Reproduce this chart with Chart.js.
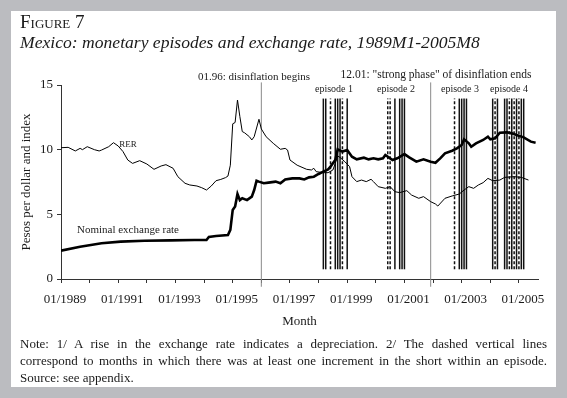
<!DOCTYPE html>
<html>
<head>
<meta charset="utf-8">
<script src="https://cdn.jsdelivr.net/npm/chart.js@4/dist/chart.umd.min.js"></script>
<style>
  html, body { margin: 0; padding: 0; }
  body {
    width: 567px; height: 398px; position: relative; overflow: hidden;
    background: #bbbcc0; color: #1a1a1a;
    font-family: "Liberation Serif", "DejaVu Serif", serif;
  }
  #panel { position: absolute; left: 11px; top: 11px; width: 545px; height: 376px; background: #fff; }
  #chart { position: absolute; left: 0; top: 0; }
  .t { position: absolute; white-space: nowrap; }
  .c { transform: translate(-50%, -50%); }
  .note { position: absolute; left: 20px; width: 527px; font-size: 13px; line-height: 17px; }
  .just { text-align: justify; text-align-last: justify; }
</style>
</head>
<body>
<div id="panel"></div>
<canvas id="chart" width="567" height="398"></canvas>

<div class="t" style="left:20px;top:11px;font-size:19px;font-variant:small-caps;">Figure 7</div>
<div class="t" style="left:20px;top:32px;font-size:17.6px;font-style:italic;">Mexico: monetary episodes and exchange rate, 1989M1-2005M8</div>

<div class="t c" style="left:254px;top:76px;font-size:11px;">01.96: disinflation begins</div>
<div class="t c" style="left:436px;top:74px;font-size:11.5px;">12.01: "strong phase" of disinflation ends</div>
<div class="t c" style="left:334px;top:88px;font-size:10px;">episode 1</div>
<div class="t c" style="left:396px;top:88px;font-size:10px;">episode 2</div>
<div class="t c" style="left:460px;top:88px;font-size:10px;">episode 3</div>
<div class="t c" style="left:509px;top:88px;font-size:10px;">episode 4</div>
<div class="t c" style="left:128px;top:144px;font-size:9px;">RER</div>
<div class="t c" style="left:128px;top:229px;font-size:11px;">Nominal exchange rate</div>

<div class="note just" style="top:335px;">Note: 1/ A rise in the exchange rate indicates a depreciation. 2/ The dashed vertical lines</div>
<div class="note just" style="top:352px;">correspond to months in which there was at least one increment in the short within an episode.</div>
<div class="note" style="top:369px;">Source: see appendix.</div>

<script>
// months counted from 1989M1 (= 0)
const nominalMonths = [0, 8, 17, 25, 35, 46, 56, 61, 62, 65, 70, 71, 72, 73, 74, 75, 76, 78, 80, 81, 82, 83, 85, 87, 90, 92, 94, 97, 100, 102, 104, 106, 108, 110, 112, 113, 115, 116, 118, 120, 122, 124, 127, 129, 131, 133, 135, 136, 139, 141, 144, 146, 149, 152, 155, 157, 159, 161, 164, 166, 168, 169, 171, 172, 174, 177, 179, 180, 182, 184, 187, 189, 191, 194, 197, 199];
const nominalValues = [2.19, 2.5, 2.76, 2.89, 2.96, 2.99, 3.02, 3.02, 3.25, 3.32, 3.4, 3.8, 5.34, 5.6, 6.57, 6.1, 6.24, 6.1, 6.37, 6.88, 7.6, 7.53, 7.4, 7.45, 7.53, 7.4, 7.7, 7.78, 7.78, 7.7, 7.86, 7.91, 8.12, 8.3, 8.48, 8.69, 9.2, 10.03, 9.85, 9.97, 9.46, 9.25, 9.38, 9.25, 9.33, 9.25, 9.33, 9.59, 9.2, 9.33, 9.66, 9.41, 9.07, 9.25, 9.07, 8.99, 9.33, 9.72, 9.92, 10.1, 10.36, 10.8, 10.49, 10.23, 10.49, 10.75, 11.0, 10.8, 10.88, 11.31, 11.34, 11.26, 11.13, 10.95, 10.62, 10.54];

const rerMonths = [0, 3, 6, 8, 9, 11, 14, 16, 17, 20, 22, 24, 26, 28, 30, 33, 36, 39, 42, 44, 47, 49, 52, 54, 57, 59, 61, 63, 65, 67, 69, 70, 71, 72, 73, 74, 75, 76, 77, 79, 80, 81, 83, 84, 86, 89, 92, 94, 95, 96, 99, 103, 105, 106, 107, 110, 112, 114, 115, 116, 117, 119, 121, 122, 124, 126, 128, 130, 131, 133, 136, 138, 140, 142, 145, 147, 150, 152, 155, 157, 158, 161, 164, 167, 169, 171, 173, 175, 177, 179, 181, 184, 186, 190, 193, 196];
const rerValues = [10.15, 10.18, 9.9, 10.1, 10.0, 10.23, 10.0, 9.9, 9.97, 10.23, 10.54, 10.28, 9.85, 9.2, 8.94, 9.15, 8.89, 8.48, 8.74, 8.84, 8.56, 7.91, 7.4, 7.27, 7.19, 7.06, 6.88, 7.19, 7.6, 7.7, 7.84, 7.96, 8.8, 12.0, 12.1, 13.84, 12.55, 11.4, 11.3, 11.0, 10.75, 11.0, 12.35, 11.6, 11.0, 10.49, 10.03, 10.1, 9.97, 9.2, 8.8, 8.48, 8.43, 8.56, 8.3, 8.22, 8.22, 8.43, 8.94, 9.51, 9.4, 9.07, 8.69, 7.91, 7.53, 7.65, 7.53, 7.71, 7.53, 7.14, 7.01, 7.14, 6.75, 6.68, 6.83, 6.49, 6.24, 6.37, 5.98, 5.8, 5.64, 6.24, 6.42, 6.57, 6.88, 7.14, 7.01, 7.27, 7.45, 7.78, 7.6, 7.65, 7.86, 7.91, 7.86, 7.65];

// episode months (solid and dashed vertical lines)
const solidMonths = [110, 111, 115, 116, 117, 120, 140, 142, 143, 144, 167, 168, 169, 170, 181, 183, 186, 187, 189, 191, 193, 194];
const dashedMonths = [113, 118, 137, 138, 165, 182, 188, 190, 192];
// 01.96 disinflation begins, 12.01 strong phase ends
const phaseMonths = [84, 155];

const yearTicks = [0, 12, 24, 36, 48, 60, 72, 84, 96, 108, 120, 132, 144, 156, 168, 180, 192];
const tickLabels = ["01/1989", "01/1991", "01/1993", "01/1995", "01/1997", "01/1999", "01/2001", "01/2003", "01/2005"];

const FONT = "'Liberation Serif', 'DejaVu Serif', serif";
const INK = "#1a1a1a";

function pairs(xs, ys) {
  return xs.map((x, i) => ({ x: x, y: ys[i] }));
}

function vline(m, y0, y1, opts) {
  return Object.assign({
    data: [{ x: m, y: y0 }, { x: m, y: y1 }],
    borderColor: "#111",
    borderWidth: 1.5,
    pointRadius: 0,
    clip: false,
  }, opts);
}

const datasets = [
  { label: "Nominal exchange rate", data: pairs(nominalMonths, nominalValues), borderColor: "#000", borderWidth: 2.6, pointRadius: 0, tension: 0 },
  { label: "RER", data: pairs(rerMonths, rerValues), borderColor: "#000", borderWidth: 1, pointRadius: 0, tension: 0 },
];
phaseMonths.forEach((m) => datasets.push(vline(m, -0.6, 15.2, { borderColor: "#8a8a8a", borderWidth: 1 })));
solidMonths.forEach((m) => datasets.push(vline(m, 0.75, 13.95)));
dashedMonths.forEach((m) => datasets.push(vline(m, 0.75, 13.95, { borderDash: [3, 2] })));

new Chart(document.getElementById("chart"), {
  type: "line",
  data: { datasets },
  options: {
    responsive: false,
    animation: false,
    events: [],
    layout: { padding: { left: 12, right: 29, top: 85, bottom: 65 } },
    plugins: { legend: { display: false }, tooltip: { enabled: false } },
    scales: {
      x: {
        type: "linear",
        min: 0,
        max: 200,
        afterBuildTicks: (s) => { s.ticks = yearTicks.map((v) => ({ value: v })); },
        afterFit: (s) => { s.height = 54; },
        ticks: {
          autoSkip: false,
          maxRotation: 0,
          labelOffset: 4,
          padding: 9,
          color: INK,
          font: { family: FONT, size: 13 },
          callback: (v, i) => (i % 2 === 0 ? tickLabels[i / 2] : ""),
        },
        grid: { drawOnChartArea: false, tickLength: 4, color: "#333" },
        border: { color: "#333" },
        title: { display: true, text: "Month", color: INK, font: { family: FONT, size: 13 }, padding: { top: 0, bottom: 4 } },
      },
      y: {
        min: 0,
        max: 15,
        afterFit: (s) => { s.width = 49; },
        ticks: { stepSize: 5, padding: 4, color: INK, font: { family: FONT, size: 13 } },
        grid: { drawOnChartArea: false, tickLength: 4, color: "#333" },
        border: { color: "#333" },
        title: { display: true, text: "Pesos per dollar and index", color: INK, font: { family: FONT, size: 13 }, padding: { top: 7, bottom: 0 } },
      },
    },
  },
});
</script>
</body>
</html>
